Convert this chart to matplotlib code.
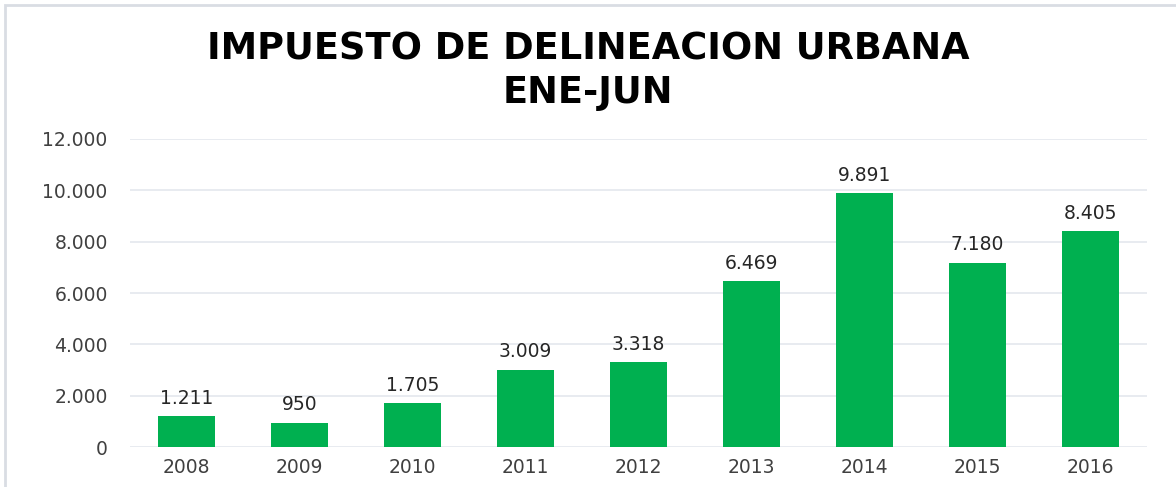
import matplotlib.pyplot as plt
from matplotlib.patches import Rectangle
from matplotlib.ticker import FuncFormatter

years = ['2008', '2009', '2010', '2011', '2012', '2013', '2014', '2015', '2016']
values = [1211, 950, 1705, 3009, 3318, 6469, 9891, 7180, 8405]
y_ticks = [0, 2000, 4000, 6000, 8000, 10000, 12000]


def fmt_miles(v, pos=None):
    return f'{int(v):,}'.replace(',', '.')


fig = plt.figure(figsize=(11.76, 4.87), dpi=100)
ax = fig.add_axes([0.1105, 0.0821, 0.8648, 0.6325])

x = range(len(years))
ax.bar(x, values, width=0.5, color='#00B050', zorder=3)

for i, v in enumerate(values):
    ax.annotate(fmt_miles(v), (i, v), xytext=(0, 6), textcoords='offset points',
                ha='center', va='bottom', fontsize=13.5, color='#262626',
                family='DejaVu Sans')

ax.set_xlim(-0.5, len(years) - 0.5)
ax.set_ylim(0, 12000)
ax.set_yticks(y_ticks)
ax.yaxis.set_major_formatter(FuncFormatter(fmt_miles))
ax.set_xticks(list(x))
ax.set_xticklabels(years)
ax.grid(axis='y', color='#E4E8EE', linewidth=1.2, zorder=0)
for s in ax.spines.values():
    s.set_visible(False)
ax.tick_params(axis='both', length=0, labelsize=13.5, labelcolor='#404040')
ax.tick_params(axis='y', pad=16)
ax.tick_params(axis='x', pad=8)
for lab in ax.get_xticklabels() + ax.get_yticklabels():
    lab.set_family('DejaVu Sans')

fig.text(0.5, 0.90, 'IMPUESTO DE DELINEACION URBANA', ha='center', va='center',
         fontsize=26.5, fontweight='bold', family='DejaVu Sans', color='black')
fig.text(0.5, 0.811, 'ENE-JUN', ha='center', va='center',
         fontsize=26.5, fontweight='bold', family='DejaVu Sans', color='black')

fig.patches.append(Rectangle((5 / 1176, -0.05), 1.2, 1 - 5 / 487 + 0.05,
                             transform=fig.transFigure, fill=False,
                             edgecolor='#D9DDE3', linewidth=2))

fig.savefig('out.png', dpi=100)
